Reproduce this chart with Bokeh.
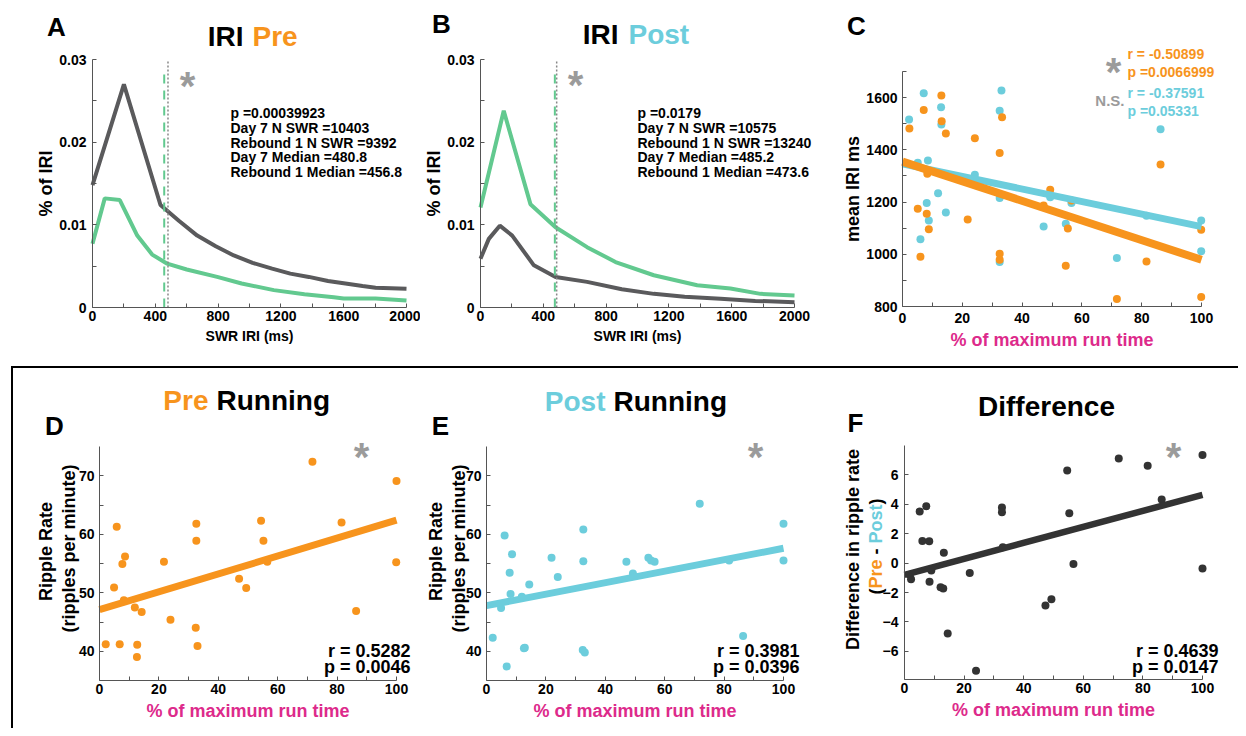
import math
from bokeh.plotting import figure
from bokeh.models import Range1d, Label, FixedTicker, NumeralTickFormatter, Spacer
from bokeh.layouts import row, column
from bokeh.embed import file_html
from bokeh.resources import INLINE

FONT = "Liberation Sans"
ORANGE = "#F7941D"
CYAN = "#6CCDDC"
GREEN = "#62C98F"
GRAY = "#5A5A5C"
DARK = "#333333"
MAGENTA = "#DD2A8B"
STAR = "#9B9B9B"
AXIS = "#555555"

# ---------------- data ----------------
# Panel A: IRI distribution, Pre
A_day7_x = [0, 200, 433, 550, 667, 785, 900, 1020, 1144, 1260, 1378, 1500, 1611, 1720, 1803, 2000]
A_day7_y = [0.0148, 0.0270, 0.0124, 0.0105, 0.0087, 0.0074, 0.0063, 0.0054, 0.0047, 0.0041,
            0.0037, 0.0032, 0.0029, 0.0026, 0.0024, 0.00226]
A_reb1_x = [0, 78, 174, 285, 380, 476, 600, 794, 950, 1155, 1350, 1537, 1600, 1803, 2000]
A_reb1_y = [0.0077, 0.0132, 0.0130, 0.0087, 0.0064, 0.0053, 0.0046, 0.0037, 0.0029, 0.0021,
            0.0016, 0.00125, 0.0011, 0.0011, 0.00085]
A_medians = [480.8, 456.8]          # Day 7, Rebound 1
A_stats = ["p =0.00039923", "Day 7 N SWR =10403", "Rebound 1 N SWR =9392",
           "Day 7 Median =480.8", "Rebound 1 Median =456.8"]

# Panel B: IRI distribution, Post
B_day7_x = [0, 53, 123, 202, 340, 478, 679, 900, 1104, 1300, 1529, 1750, 2000]
B_day7_y = [0.0059, 0.0083, 0.0099, 0.0087, 0.0051, 0.0037, 0.0031, 0.0022, 0.00165, 0.0013,
            0.00105, 0.0008, 0.00064]
B_reb1_x = [0, 148, 318, 478, 679, 860, 1104, 1380, 1592, 1783, 2000]
B_reb1_y = [0.0121, 0.0238, 0.0125, 0.0097, 0.0073, 0.0055, 0.0039, 0.0027, 0.0023, 0.00165, 0.00145]
B_medians = [485.2, 473.6]
B_stats = ["p =0.0179", "Day 7 N SWR =10575", "Rebound 1 N SWR =13240",
           "Day 7 Median =485.2", "Rebound 1 Median =473.6"]

# Panel C: mean IRI vs % of max run time
C_pre_x = [2.3, 7.1, 13.0, 13.1, 14.5, 5.1, 8.1, 8.8, 8.3, 6.0, 21.8, 24.2, 32.5, 33.3, 32.5, 32.5,
           47.2, 49.4, 55.3, 54.6, 56.5, 71.7, 81.6, 86.3, 99.9, 99.9]
C_pre_y = [1482, 1553, 1608, 1509, 1463, 1174, 1155, 1096, 1308, 991, 1133, 1444, 1388, 1525, 1002, 979,
           1187, 1247, 1099, 956, 1206, 829, 972, 1344, 1094, 836]
C_post_x = [2.2, 7.1, 5.1, 6.0, 8.5, 8.1, 8.8, 11.9, 12.9, 13.0, 14.5, 24.2, 32.5, 33.1, 32.5, 32.5,
            47.2, 49.4, 54.6, 56.5, 71.7, 81.6, 86.3, 99.9, 99.9]
C_post_y = [1516, 1617, 1351, 1058, 1359, 1196, 1129, 1234, 1563, 1497, 1160, 1305, 1550, 1627, 1216, 970,
            1106, 1218, 1117, 1196, 986, 1148, 1479, 1129, 1012]
C_fit_x = [0, 100]
C_fit_pre = [1355, 979]
C_fit_post = [1346, 1106]

# Panel D: Pre ripple rate
D_x = [2.1, 5.8, 4.9, 6.8, 8.6, 7.7, 8.2, 11.9, 12.7, 12.6, 14.2, 21.7, 23.9, 32.6, 32.6, 32.4, 33.0,
       47.0, 49.4, 54.4, 55.2, 56.5, 71.7, 81.5, 86.4, 100.0, 99.9]
D_y = [41.2, 61.3, 50.9, 41.2, 56.2, 54.9, 48.7, 47.5, 41.1, 39.0, 46.7, 55.3, 45.4, 61.8, 58.9, 44.0, 40.9,
       52.4, 50.8, 62.3, 58.9, 55.3, 72.4, 62.0, 46.9, 69.1, 55.2]
D_fit_x = [0, 100]
D_fit_y = [47.1, 62.4]

# Panel E: Post ripple rate
E_x = [2.1, 6.1, 4.9, 6.8, 8.6, 7.8, 8.1, 11.9, 12.9, 12.6, 14.4, 21.9, 24.0, 32.6, 32.6, 32.4, 33.1,
       47.1, 49.3, 54.5, 55.4, 56.6, 71.8, 81.7, 86.4, 100.0, 100.0]
E_y = [42.3, 59.8, 47.4, 37.4, 56.6, 53.4, 49.8, 49.3, 40.6, 40.5, 51.4, 56.0, 52.7, 60.8, 55.4, 40.2, 39.8,
       55.3, 53.3, 56.0, 55.5, 55.3, 65.2, 55.5, 42.6, 61.8, 55.5]
E_fit_x = [0, 100]
E_fit_y = [47.8, 57.6]

# Panel F: difference Pre - Post
F_x = [2.2, 1.8, 5.1, 6.0, 7.3, 8.3, 8.4, 9.0, 12.1, 13.0, 13.2, 14.5, 21.9, 24.0, 32.7, 32.7, 33.0,
       47.3, 49.3, 54.6, 55.3, 56.7, 71.9, 81.6, 86.3, 100.0, 100.0]
F_y = [-1.1, -0.8, 3.5, 1.5, 3.85, 1.48, -1.27, -0.5, -1.64, -1.73, 0.69, -4.78, -0.67, -7.3, 3.76, 3.44, 1.07,
       -2.88, -2.45, 6.27, 3.38, -0.06, 7.08, 6.59, 4.3, 7.33, -0.37]
F_fit_x = [0, 100]
F_fit_y = [-0.8, 4.62]

# Bold Arial-metric advance widths (em) for composing multi-colour text
W = {"(": 0.333, ")": 0.333, " ": 0.278, "-": 0.333, "P": 0.667, "r": 0.389, "e": 0.556,
     "o": 0.611, "s": 0.556, "t": 0.333}


def text_width(s, size):
    return sum(W.get(c, 0.556) for c in s) * size


class Panel:
    """A figure whose frame fills the whole figure; the axes are pinned inside it
    (fixed_location + bounds) so that free text can sit anywhere in the panel."""

    def __init__(self, page_x, page_y, width, height, fl, ft, fw, fh, xr, yr):
        self.fl, self.ft, self.fw, self.fh, self.xr, self.yr = fl, ft, fw, fh, xr, yr
        x0, x1 = xr
        y0, y1 = yr
        sx = fw / (x1 - x0)
        sy = fh / (y1 - y0)
        X0 = x0 - (fl - page_x) / sx
        X1 = x0 + (page_x + width - fl) / sx
        Y0 = y0 - (page_y + height - (ft + fh)) / sy
        Y1 = y1 + (ft - page_y) / sy
        p = figure(width=width, height=height, x_range=Range1d(X0, X1), y_range=Range1d(Y0, Y1),
                   output_backend="svg", toolbar_location=None, title=None,
                   min_border_left=0, min_border_top=0, min_border_right=0, min_border_bottom=0)
        p.outline_line_color = None
        p.xgrid.visible = False
        p.ygrid.visible = False
        p.background_fill_color = "white"
        p.border_fill_color = "white"
        p.xaxis.fixed_location = y0
        p.xaxis.bounds = (x0, x1)
        p.yaxis.fixed_location = x0
        p.yaxis.bounds = (y0, y1)
        self.p = p

    def axes(self, xt, xmt, yt, ymt, xstand, ystand, tick_size=14):
        p = self.p
        p.xaxis.ticker = FixedTicker(ticks=xt, minor_ticks=xmt)
        p.yaxis.ticker = FixedTicker(ticks=yt, minor_ticks=ymt)
        for ax in (p.xaxis[0], p.yaxis[0]):
            ax.axis_line_color = AXIS
            ax.axis_line_width = 1
            ax.major_tick_line_color = AXIS
            ax.minor_tick_line_color = AXIS
            ax.major_tick_in = 4
            ax.major_tick_out = 0
            ax.minor_tick_in = 4
            ax.minor_tick_out = 0
            ax.major_label_text_font = FONT
            ax.major_label_text_font_style = "bold"
            ax.major_label_text_font_size = f"{tick_size}px"
            ax.major_label_text_color = "black"
            ax.axis_label_text_font = FONT
            ax.axis_label_text_font_style = "bold"
            ax.axis_label_text_color = "black"
        p.xaxis.axis_label_standoff = 4
        p.yaxis.axis_label_standoff = 0
        p.xaxis.major_label_standoff = xstand
        p.yaxis.major_label_standoff = ystand

    def to_data(self, px, py):
        x0, x1 = self.xr
        y0, y1 = self.yr
        x = x0 + (px - self.fl) / self.fw * (x1 - x0)
        y = y0 + (self.ft + self.fh - py) / self.fh * (y1 - y0)
        return x, y

    def label(self, px, py, text, size, color="black", align="left", baseline="middle", angle=0.0):
        x, y = self.to_data(px, py)
        self.p.add_layout(Label(x=x, y=y, text=text, text_font=FONT, text_font_style="bold",
                                text_font_size=f"{size}px", text_color=color, text_align=align,
                                text_baseline=baseline, angle=angle))

    def star(self, cx, cy, size=40):
        self.label(cx, cy + 0.15 * size, "*", size, STAR, align="center")


ROT = math.pi / 2
X_IRI = [0, 400, 800, 1200, 1600, 2000]
X_IRI_MINOR = [200, 600, 1000, 1400, 1800]
X_PCT = [0, 20, 40, 60, 80, 100]
X_PCT_MINOR = [10, 30, 50, 70, 90]

# ---------------- Panel A ----------------
A = Panel(0, 0, 420, 366, 92, 59, 314, 248, (0, 2000), (0, 0.03))
A.axes(X_IRI, X_IRI_MINOR, [0, 0.01, 0.02, 0.03], [0.005, 0.015, 0.025], 3, 6)
A.p.yaxis.formatter = NumeralTickFormatter(format="0.[00]")
A.p.xaxis.axis_label = "SWR IRI (ms)"
A.p.xaxis.axis_label_text_font_size = "14px"
A.p.yaxis.axis_label = "% of IRI"
A.p.yaxis.axis_label_text_font_size = "18px"
A.p.line(A_day7_x, A_day7_y, line_color=GRAY, line_width=4)
A.p.line(A_reb1_x, A_reb1_y, line_color=GREEN, line_width=4)
A.p.segment(x0=[A_medians[1]], y0=[0], x1=[A_medians[1]], y1=[0.029], line_color=GREEN,
            line_width=2, line_dash="9 7")
A.p.segment(x0=[A_medians[0]], y0=[0], x1=[A_medians[0]], y1=[0.03], line_color="#888888",
            line_width=1.5, line_dash="2 2")
A.label(56, 26.5, "A", 26, align="center")
A.label(243, 36, "IRI", 28, align="right")
A.label(252, 36, "Pre", 28, ORANGE)
for i, s in enumerate(A_stats):
    A.label(230, 112.5 + 14.8 * i, s, 14)
A.star(187, 79)

# ---------------- Panel B ----------------
B = Panel(420, 0, 400, 366, 480, 59, 314, 248, (0, 2000), (0, 0.03))
B.axes(X_IRI, X_IRI_MINOR, [0, 0.01, 0.02, 0.03], [0.005, 0.015, 0.025], 3, 6)
B.p.yaxis.formatter = NumeralTickFormatter(format="0.[00]")
B.p.xaxis.axis_label = "SWR IRI (ms)"
B.p.xaxis.axis_label_text_font_size = "14px"
B.p.yaxis.axis_label = "% of IRI"
B.p.yaxis.axis_label_text_font_size = "18px"
B.p.line(B_reb1_x, B_reb1_y, line_color=GREEN, line_width=4)
B.p.line(B_day7_x, B_day7_y, line_color=GRAY, line_width=4)
B.p.segment(x0=[B_medians[1]], y0=[0], x1=[B_medians[1]], y1=[0.029], line_color=GREEN,
            line_width=2, line_dash="9 7")
B.p.segment(x0=[B_medians[0]], y0=[0], x1=[B_medians[0]], y1=[0.03], line_color="#888888",
            line_width=1.5, line_dash="2 2")
B.label(441, 23.5, "B", 26, align="center")
B.label(618, 34, "IRI", 28, align="right")
B.label(628, 34, "Post", 28, CYAN)
for i, s in enumerate(B_stats):
    B.label(637, 112.5 + 14.8 * i, s, 14)
B.star(575, 78)

# ---------------- Panel C ----------------
C = Panel(820, 0, 418, 366, 902, 71, 299, 235, (0, 100), (800, 1700))
C.axes(X_PCT, X_PCT_MINOR, [800, 1000, 1200, 1400, 1600], [900, 1100, 1300, 1500, 1700], 6, 5)
C.p.xaxis.axis_label = "% of maximum run time"
C.p.xaxis.axis_label_text_font_size = "18px"
C.p.xaxis.axis_label_text_color = MAGENTA
C.p.yaxis.axis_label = "mean IRI ms"
C.p.yaxis.axis_label_text_font_size = "18px"
C.p.scatter(C_post_x, C_post_y, size=8, marker="circle", fill_color=CYAN, line_color=None)
C.p.scatter(C_pre_x, C_pre_y, size=8, marker="circle", fill_color=ORANGE, line_color=None)
C.p.line(C_fit_x, C_fit_post, line_color=CYAN, line_width=7)
C.p.line(C_fit_x, C_fit_pre, line_color=ORANGE, line_width=8)
C.label(856, 25.5, "C", 26, align="center")
C.label(1127, 53.8, "r = -0.50899", 14, ORANGE)
C.label(1127, 71.3, "p =0.0066999", 14, ORANGE)
C.label(1124, 100.3, "N.S.", 15, STAR, align="right")
C.label(1127, 92.2, "r = -0.37591", 14, CYAN)
C.label(1127, 110.5, "p =0.05331", 14, CYAN)
C.star(1113, 65)

# ---------------- Panel D ----------------
D = Panel(13, 368, 407, 360, 99, 446, 297, 234, (0, 100), (35, 75))
D.axes(X_PCT, X_PCT_MINOR, [40, 50, 60, 70], [45, 55, 65], 3, 5)
D.p.xaxis.axis_label = "% of maximum run time"
D.p.xaxis.axis_label_text_font_size = "18px"
D.p.xaxis.axis_label_text_color = MAGENTA
D.p.scatter(D_x, D_y, size=8, marker="circle", fill_color=ORANGE, line_color=None)
D.p.line(D_fit_x, D_fit_y, line_color=ORANGE, line_width=7)
D.label(54, 425, "D", 26, align="center")
D.label(208, 400, "Pre", 28, ORANGE, align="right")
D.label(216, 400, "Running", 28)
D.label(45, 551, "Ripple Rate", 18, align="center", angle=ROT)
D.label(68, 548, "(ripples per minute)", 18, align="center", angle=ROT)
D.label(410, 650, "r = 0.5282", 18, align="right")
D.label(410, 666.5, "p = 0.0046", 18, align="right")
D.star(361, 450)

# ---------------- Panel E ----------------
E = Panel(420, 368, 410, 360, 486, 446, 297, 234, (0, 100), (35, 75))
E.axes(X_PCT, X_PCT_MINOR, [40, 50, 60, 70], [45, 55, 65], 3, 5)
E.p.xaxis.axis_label = "% of maximum run time"
E.p.xaxis.axis_label_text_font_size = "18px"
E.p.xaxis.axis_label_text_color = MAGENTA
E.p.scatter(E_x, E_y, size=8, marker="circle", fill_color=CYAN, line_color=None)
E.p.line(E_fit_x, E_fit_y, line_color=CYAN, line_width=7)
E.label(440, 425, "E", 26, align="center")
E.label(605, 401, "Post", 28, CYAN, align="right")
E.label(613, 401, "Running", 28)
E.label(435, 551, "Ripple Rate", 18, align="center", angle=ROT)
E.label(458, 548, "(ripples per minute)", 18, align="center", angle=ROT)
E.label(799, 650, "r = 0.3981", 18, align="right")
E.label(799, 666.5, "p = 0.0396", 18, align="right")
E.star(755, 450)

# ---------------- Panel F ----------------
F = Panel(830, 368, 408, 360, 904, 445, 298, 234, (0, 100), (-7.9, 7.97))
F.axes(X_PCT, X_PCT_MINOR, [-6, -4, -2, 0, 2, 4, 6], [], 3, 6)
F.p.xaxis.axis_label = "% of maximum run time"
F.p.xaxis.axis_label_text_font_size = "18px"
F.p.xaxis.axis_label_text_color = MAGENTA
F.p.scatter(F_x, F_y, size=8, marker="circle", fill_color=DARK, line_color=None)
F.p.line(F_fit_x, F_fit_y, line_color=DARK, line_width=6.5)
F.label(855, 422.5, "F", 26, align="center")
F.label(1046, 406, "Difference", 28, align="center")
F.label(852, 549, "Difference in ripple rate", 18, align="center", angle=ROT)
pieces = [("(", "black"), ("Pre", ORANGE), (" ", None), ("-", "black"), (" ", None),
          ("Post", CYAN), (")", "black")]
total = sum(text_width(t, 18) for t, _ in pieces)
ypos = 546 + total / 2
for t, col in pieces:
    if col is not None:
        F.label(875, ypos, t, 18, col, align="left", angle=ROT)
    ypos -= text_width(t, 18)
F.label(1218, 650, "r = 0.4639", 18, align="right")
F.label(1218, 666.5, "p = 0.0147", 18, align="right")
F.star(1173, 450)

# ---------------- layout ----------------
top = row(A.p, B.p, C.p)
hline = Spacer(width=1227, height=2, styles={"background-color": "black"})
vline = Spacer(width=2, height=360, styles={"background-color": "black"})
bottom = row(Spacer(width=11, height=362), column(hline, row(vline, D.p, E.p, F.p)))
layout = column(top, bottom)

open("out.html", "w").write(file_html(layout, INLINE))
